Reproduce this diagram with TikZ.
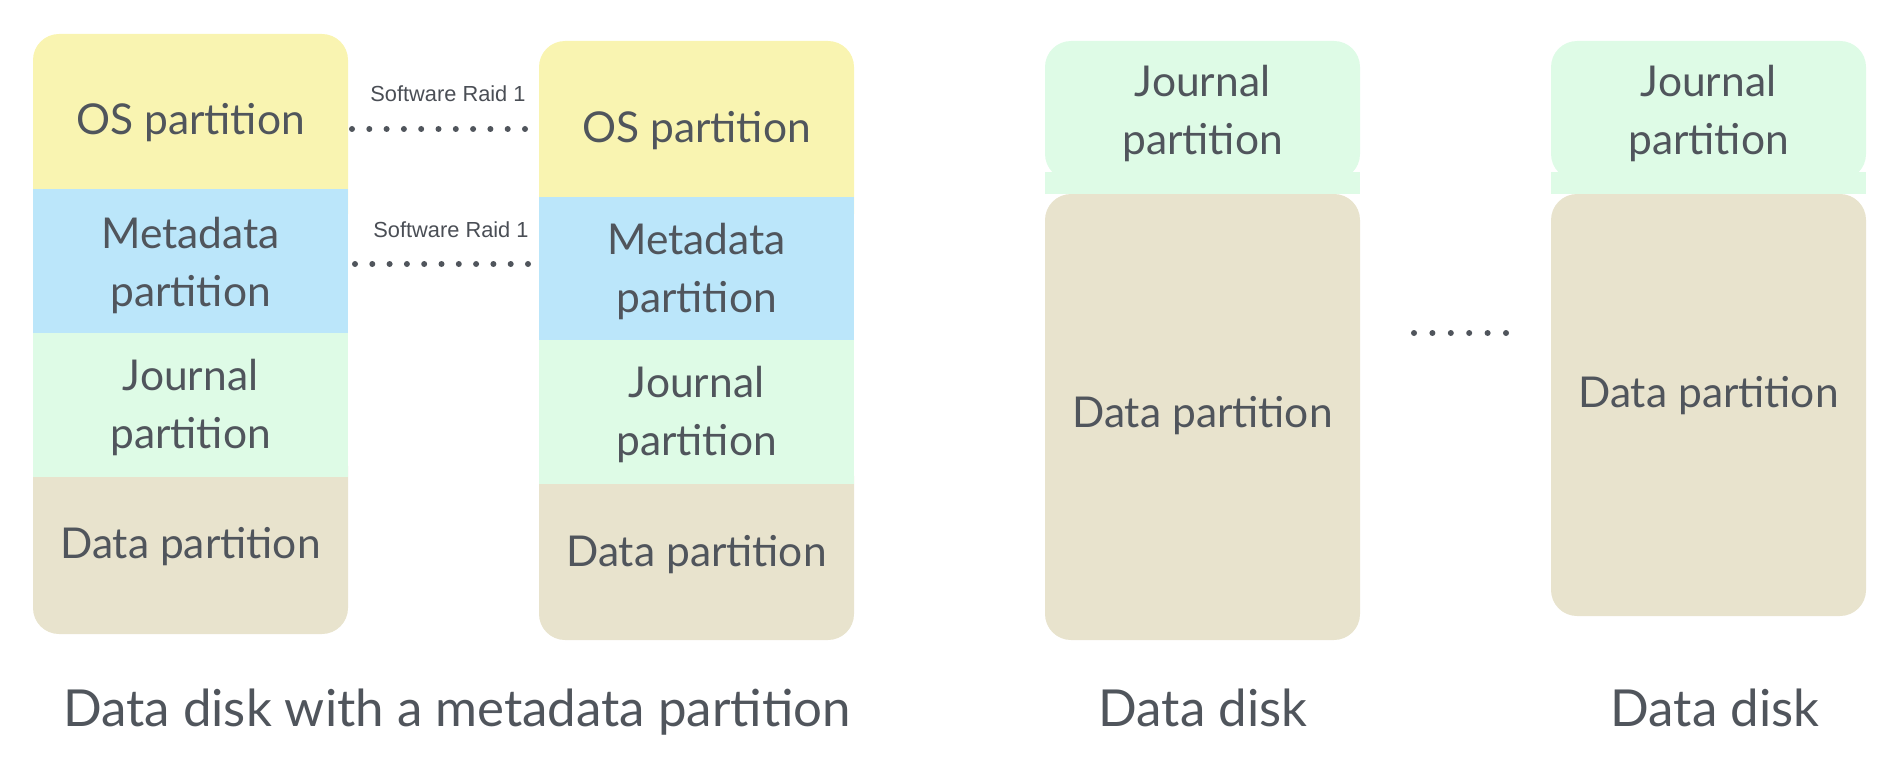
\documentclass[tikz,border=0pt]{standalone}
\usepackage{fontspec}
\setmainfont{Lato}
\newfontfamily\raidfont{Liberation Sans}
\definecolor{yel}{HTML}{F9F4B1}
\definecolor{blu}{HTML}{BBE6FA}
\definecolor{grn}{HTML}{DEFBE6}
\definecolor{tanc}{HTML}{E8E3CD}
\definecolor{txt}{HTML}{50555C}
\definecolor{raidtxt}{HTML}{4A4E55}
\begin{document}
\begin{tikzpicture}[x=1pt,y=-1pt,
  lbl/.style={font=\fontsize{42.5}{58}\selectfont, text=txt, align=center, inner sep=0pt, anchor=base},
  captext/.style={font=\fontsize{51}{60}\selectfont, text=txt, inner sep=0pt, anchor=base},
  raidlbl/.style={font=\raidfont\fontsize{21.8}{26}\selectfont, text=raidtxt, inner sep=0pt, anchor=base},
  dotline/.style={draw=txt, line width=6pt, line cap=round, dash pattern=on 0pt off 17.3pt},
  rc/.style={rounded corners=26pt}]
\useasboundingbox (0,0) rectangle (1902,762);
% Disk 1
\fill[yel, rc] (33,34) rectangle (348,240);
\fill[tanc, rc] (33,440) rectangle (348,634);
\fill[blu] (33,189) rectangle (348,333);
\fill[grn] (33,333) rectangle (348,477);
% Disk 2
\fill[yel, rc] (539,41) rectangle (854,240);
\fill[tanc, rc] (539,450) rectangle (854,640);
\fill[blu] (539,197) rectangle (854,340);
\fill[grn] (539,340) rectangle (854,484);
% Disk 3
\fill[grn, rc] (1045,41) rectangle (1360,180);
\fill[tanc, rc] (1045,194) rectangle (1360,640);
\fill[grn] (1045,172) rectangle (1360,194);
% Disk 4
\fill[grn, rc] (1551,41) rectangle (1866,180);
\fill[tanc, rc] (1551,194) rectangle (1866,616);
\fill[grn] (1551,172) rectangle (1866,194);
% Labels disk 1
\node[lbl] (os1) at (190.5,135) {OS partition};
\node[lbl] (meta1) at (190.5,306) {Metadata\\partition};
\node[lbl] (jour1) at (190.5,448) {Journal\\partition};
\node[lbl] (data1) at (190.5,558) {Data partition};
% Labels disk 2
\node[lbl] (os2) at (696.5,143) {OS partition};
\node[lbl] (meta2) at (696.5,312) {Metadata\\partition};
\node[lbl] (jour2) at (696.5,455) {Journal\\partition};
\node[lbl] (data2) at (696.5,566) {Data partition};
% Labels disk 3
\node[lbl] (jour3) at (1202.5,155) {Journal\\partition};
\node[lbl] (data3) at (1202.5,427) {Data partition};
% Labels disk 4
\node[lbl] (jour4) at (1708.5,155) {Journal\\partition};
\node[lbl] (data4) at (1708.5,407) {Data partition};
% Captions
\node[captext] (cap1) at (457,726) {Data disk with a metadata partition};
\node[captext] (cap2) at (1203,726) {Data disk};
\node[captext] (cap3) at (1715,726) {Data disk};
% Raid connectors
\node[raidlbl] (raid1) at (448,102) {Software Raid 1};
\node[raidlbl] (raid2) at (451,237) {Software Raid 1};
\coordinate (r1s) at (352,129);
\coordinate (r1e) at (525.3,129);
\coordinate (r2s) at (355,264);
\coordinate (r2e) at (528.3,264);
\draw[dotline] (r1s) -- (r1e);
\draw[dotline] (r2s) -- (r2e);
% Ellipsis between data disks
\coordinate (e1) at (1414,333);
\coordinate (e2) at (1506.6,333);
\draw[dotline, dash pattern=on 0pt off 18.4pt] (e1) -- (e2);
\end{tikzpicture}
\end{document}
